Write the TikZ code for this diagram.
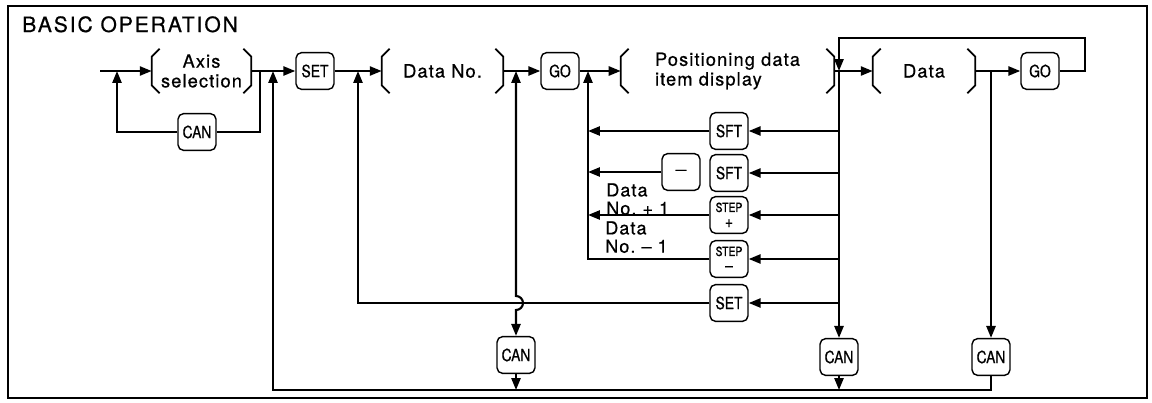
\documentclass[tikz,border=0pt]{standalone}
\usepackage{fontspec}
\setmainfont{TeX Gyre Heros}
\newfontfamily\keyfont[FakeStretch=0.82, FakeBold=0.6]{TeX Gyre Heros}
\newfontfamily\widefont[LetterSpace=6, FakeBold=0.6]{TeX Gyre Heros}
\usetikzlibrary{positioning,arrows.meta,calc}
\tikzset{
    % key and field styles
    key/.style={rectangle, draw, rounded corners=4pt, line width=1pt,
                minimum width=0.95cm, minimum height=0.92cm, inner sep=0pt,
                align=center, font=\keyfont\fontsize{12}{12}\selectfont},
    stepkey/.style={key, font=\keyfont\fontsize{9}{11}\selectfont},
    field/.style={rectangle, minimum height=1.1cm, inner sep=0pt, align=center,
                  font=\widefont\fontsize{13}{14}\selectfont},
    bracket/.style={line width=1.3pt},
    % connector styles
    wire/.style={line width=1.5pt},
    flow/.style={wire, -{Triangle[length=8.5pt,width=6.5pt]}},
    both flow/.style={wire, {Triangle[length=8.5pt,width=6.5pt]}-{Triangle[length=8.5pt,width=6.5pt]}},
    % annotation styles
    annot/.style={align=left, inner sep=0pt, font=\widefont\fontsize{12.8}{13}\selectfont},
}
\newcommand\fieldbrackets[1]{%
    \draw[bracket] ([xshift=0.2cm]#1.north west) -- ([yshift=-0.2cm]#1.north west)
        -- ([yshift=0.2cm]#1.south west) -- ([xshift=0.2cm]#1.south west);
    \draw[bracket] ([xshift=-0.2cm]#1.north east) -- ([yshift=-0.2cm]#1.north east)
        -- ([yshift=0.2cm]#1.south east) -- ([xshift=-0.2cm]#1.south east);
}

\begin{document}
\begin{tikzpicture}[x=0.025cm, y=-0.025cm]
    \useasboundingbox (0,0) rectangle (1152,402);
    \draw[line width=1pt] (8,6) rectangle (1147,398);
    \node[anchor=base west, inner sep=0pt,
          font=\widefont\addfontfeatures{LetterSpace=9}\fontsize{15}{16}\selectfont] (title) at (22,32) {BASIC OPERATION};

    % Fields along the main row
    \node[field, minimum width=2.475cm] (axis) at (201.5,71) {Axis\\selection};
    \node[field, minimum width=3.025cm] (datano) at (442.5,71) {Data No.};
    \node[field, minimum width=5.325cm, align=left] (posdisp) at (727.5,71) {Positioning data\\item display};
    \node[field, minimum width=2.55cm] (data) at (924,71) {Data};
    \foreach \f in {axis,datano,posdisp,data} {\fieldbrackets{\f}}

    % Keys
    \node[key] (set1) at (315,71) {SET};
    \node[key] (go1) at (560,71) {GO};
    \node[key] (go2) at (1040,71) {GO};
    \node[key] (can0) at (197,132) {CAN};
    \node[key] (sft1) at (729,131) {SFT};
    \node[key] (sft2) at (729,173) {SFT};
    \node[key] (minus) at (681,172) {{\fontsize{9.5}{10}\selectfont\textemdash}};
    \node[stepkey] (stepplus) at (729,215) {STEP\\{\fontsize{12}{10}\selectfont +}};
    \node[stepkey] (stepminus) at (729,259) {STEP\\{\fontsize{12}{10}\selectfont \textendash}};
    \node[key] (set2) at (729,303) {SET};
    \node[key] (canmid) at (516,355) {CAN};
    \node[key] (can1) at (839,357) {CAN};
    \node[key] (can2) at (991,357) {CAN};

    % Labels
    \node[annot, anchor=north west] (lblplus) at (606,183) {Data\\No.\ + 1};
    \node[annot, anchor=north west] (lblminus) at (605,221) {Data\\No.\ \textendash\ 1};

    % Junctions
    \coordinate (start) at (100,71);
    \coordinate (jin) at (117,71);
    \coordinate (jcan) at (260,71);
    \coordinate (jbot) at (273,71);
    \coordinate (jset) at (358,71);
    \coordinate (jcanmid) at (516,71);
    \coordinate (jbus) at (588,71);
    \coordinate (jloop) at (839,71);
    \coordinate (jcan2) at (991,71);
    \coordinate (loop) at (1085,38);
    \coordinate (bot) at (273,390);
    \coordinate (hop) at (516,303);

    % Main row
    \draw[flow] (start) -- (axis.west);
    \draw[flow] (axis.east) -- (set1.west);
    \draw[flow] (set1.east) -- (datano.west);
    \draw[flow] (datano.east) -- (go1.west);
    \draw[flow] (go1.east) -- (posdisp.west);
    \draw[flow] (posdisp.east) -- (data.west);
    \draw[flow] (data.east) -- (go2.west);
    \draw[flow] (go2.east) -| (loop) -| (jloop);

    % Cancel loop at axis selection
    \draw[wire] (jcan) |- (can0.east);
    \draw[flow] (can0.west) -| (jin);

    % Left bus
    \draw[flow] (sft1.west) -- (sft1.west -| jbus);
    \draw[flow] (minus.west) -- (minus.west -| jbus);
    \draw[flow] (stepplus.west) -- (stepplus.west -| jbus);
    \draw[flow] (stepminus.west) -| (jbus);
    \draw[flow] (set2.west) -| (jset);

    % Right bus
    \draw[flow] (jloop) -- (can1.north);
    \foreach \k in {sft1,sft2,stepplus,stepminus,set2}
        \draw[flow] (\k.east -| jloop) -- (\k.east);
    \draw[flow] (jcan2) -- (can2.north);
    \draw[both flow] (jcanmid) -- ([yshift=0.175cm]hop)
        arc[start angle=90, end angle=-90, radius=0.175cm] -- (canmid.north);

    % Bottom return
    \draw[flow] (can2.south) |- (bot) -- (jbot);
    \draw[flow] (can1.south) -- (can1.south |- bot);
    \draw[flow] (canmid.south) -- (canmid.south |- bot);
\end{tikzpicture}
\end{document}
